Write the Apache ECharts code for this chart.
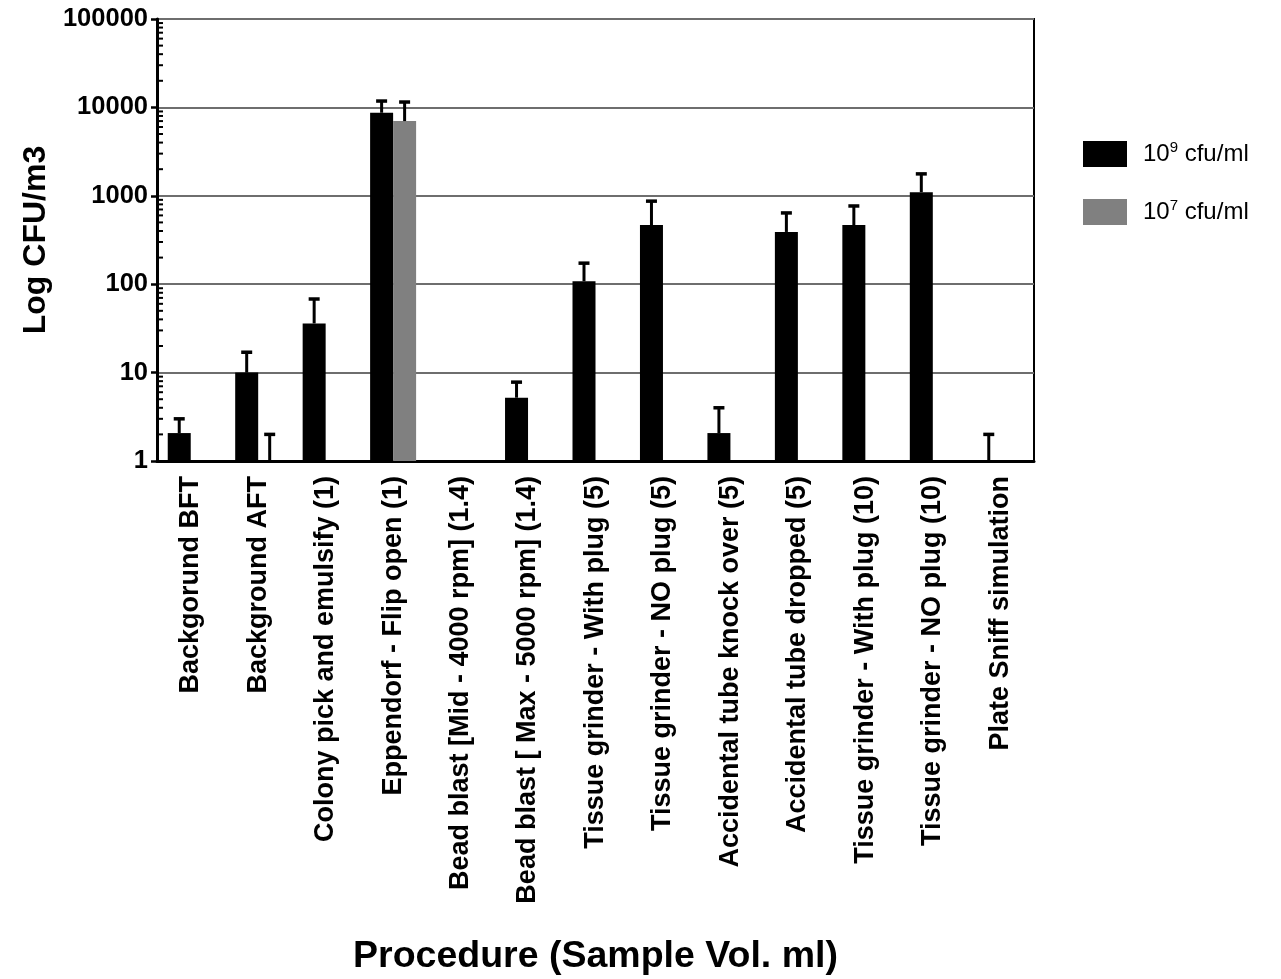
<!DOCTYPE html>
<html>
<head>
<meta charset="utf-8">
<script src="https://cdn.jsdelivr.net/npm/echarts@6/dist/echarts.min.js"></script>
<style>html,body{margin:0;padding:0;background:#fff}#c{width:1281px;height:979px}</style>
</head>
<body>
<div id="c"></div>
<script>
const categories = [
  'Backgorund BFT',
  'Background AFT',
  'Colony pick and emulsify (1)',
  'Eppendorf - Flip open (1)',
  'Bead blast [Mid - 4000 rpm] (1.4)',
  'Bead blast [ Max - 5000 rpm] (1.4)',
  'Tissue grinder - With plug (5)',
  'Tissue grinder - NO plug (5)',
  'Accidental tube knock over (5)',
  'Accidental tube dropped (5)',
  'Tissue grinder - With plug (10)',
  'Tissue grinder - NO plug (10)',
  'Plate Sniff simulation'
];
const seriesNames = ['10^9 cfu/ml', '10^7 cfu/ml'];
// mean values (null = no data)
const high = [2.07, 10, 36, 8700, null, 5.2, 108, 466, 2.07, 390, 466, 1100, 1];
const highErrTop = [3.0, 17, 68, 11800, null, 7.8, 173, 870, 4.0, 640, 767, 1770, 2];
const low = [null, 1, null, 7000, null, null, null, null, null, null, null, null, null];
const lowErrTop = [null, 2, null, 11500, null, null, null, null, null, null, null, null, null];
const yTickLabels = ['1', '10', '100', '1000', '10000', '100000'];

const BAR_W = 23;
const FONT = 'Arial, "Liberation Sans", sans-serif';

function errData(vals, tops) {
  const out = [];
  vals.forEach((v, i) => { if (v != null && tops[i] != null) out.push([i, v, tops[i]]); });
  return out;
}
function errRender(off) {
  return function (params, api) {
    const i = api.value(0);
    const b = api.coord([i, api.value(1)]);
    const t = api.coord([i, api.value(2)]);
    const cx = b[0] + off;
    return {
      type: 'group',
      children: [
        { type: 'line', shape: { x1: cx, y1: b[1], x2: cx, y2: t[1] }, style: { stroke: '#000', lineWidth: 3 } },
        { type: 'line', shape: { x1: cx - 5.5, y1: t[1], x2: cx + 5.5, y2: t[1] }, style: { stroke: '#000', lineWidth: 3.5 } }
      ]
    };
  };
}
// minor log ticks (2..9 per decade) as axis decoration
const minorTicks = [];
for (let d = 1; d < 100000; d *= 10) for (let k = 2; k <= 9; k++) minorTicks.push([0, k * d]);

const chart = echarts.init(document.getElementById('c'), null, { renderer: 'canvas' });
chart.setOption({
  animation: false,
  backgroundColor: '#fff',
  grid: { left: 157, right: 247, top: 19, bottom: 518, show: true, borderColor: '#000', borderWidth: 2, backgroundColor: 'transparent' },
  legend: {
    data: seriesNames,
    orient: 'vertical',
    left: 1083,
    top: 140,
    padding: 0,
    itemWidth: 44,
    itemHeight: 26,
    itemGap: 31,
    icon: 'rect',
    formatter: n => n.replace(/\^(\d+)/, '{sup|$1}'),
    textStyle: {
      fontFamily: FONT,
      fontSize: 24,
      color: '#000',
      padding: [0, 0, 0, 11],
      rich: {
        sup: { fontFamily: FONT, fontSize: 15, verticalAlign: 'top', padding: [0, 0, 13, 0], color: '#000' }
      }
    }
  },
  xAxis: {
    type: 'category',
    data: categories,
    boundaryGap: true,
    axisLine: { lineStyle: { color: '#000', width: 3 } },
    axisTick: { alignWithLabel: true, length: 9, interval: 0, lineStyle: { color: '#000', width: 3 } },
    axisLabel: {
      interval: 0, rotate: 90, margin: 15,
      fontFamily: FONT, fontWeight: 'bold', fontSize: 27, color: '#000'
    },
    name: 'Procedure (Sample Vol. ml)',
    nameLocation: 'middle',
    nameGap: 477,
    nameTextStyle: { fontFamily: FONT, fontWeight: 'bold', fontSize: 37.5, color: '#000' }
  },
  yAxis: {
    type: 'log',
    logBase: 10,
    min: 1,
    max: 100000,
    axisLine: { show: true, lineStyle: { color: '#000', width: 3 } },
    axisTick: { show: true, length: 6, lineStyle: { color: '#000', width: 2.5 } },
    axisLabel: {
      margin: 9,
      fontFamily: FONT, fontWeight: 'bold', fontSize: 25.5, color: '#000',
      formatter: v => yTickLabels[Math.round(Math.log10(v))] || String(v)
    },
    splitLine: { show: true, lineStyle: { color: '#6e6e6e', width: 2 } },
    name: 'Log CFU/m3',
    nameLocation: 'middle',
    nameGap: 100,
    nameRotate: 90,
    nameTextStyle: { fontFamily: FONT, fontWeight: 'bold', fontSize: 32, color: '#000' }
  },
  series: [
    {
      name: seriesNames[0], type: 'bar', barWidth: BAR_W, barGap: '0%',
      data: high.map(v => v == null ? '-' : v),
      itemStyle: { color: '#000' }, z: 3
    },
    {
      name: seriesNames[1], type: 'bar', barWidth: BAR_W, barGap: '0%',
      data: low.map(v => v == null ? '-' : v),
      itemStyle: { color: '#808080' }, z: 3
    },
    { type: 'custom', name: 'err1', data: errData(high, highErrTop), renderItem: errRender(-BAR_W / 2), z: 4, silent: true },
    { type: 'custom', name: 'err2', data: errData(low, lowErrTop), renderItem: errRender(BAR_W / 2), z: 4, silent: true },
    {
      type: 'custom', name: 'minor', data: minorTicks, z: 5, silent: true, clip: false,
      renderItem: function (params, api) {
        const p = api.coord([0, api.value(1)]);
        const x0 = params.coordSys.x;
        return { type: 'line', shape: { x1: x0, y1: p[1], x2: x0 + 6, y2: p[1] }, style: { stroke: '#000', lineWidth: 2 } };
      }
    }
  ]
});
</script>
</body>
</html>
